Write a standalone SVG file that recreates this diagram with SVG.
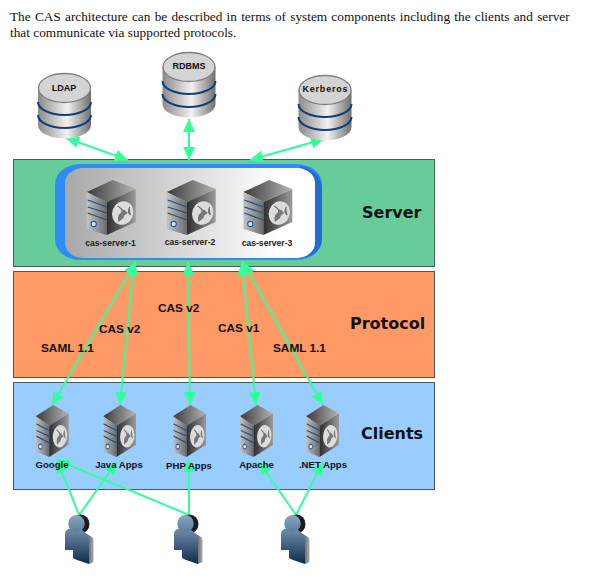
<svg xmlns="http://www.w3.org/2000/svg" xmlns:xlink="http://www.w3.org/1999/xlink" width="598" height="579" viewBox="0 0 598 579">
<style>
.band{stroke:#4a5a5a;stroke-width:1}
.intro{font-family:"Liberation Serif",serif;font-size:13.3px;fill:#111}
.title{font-family:"DejaVu Sans",sans-serif;font-weight:700;font-size:16px;fill:#111}
.proto{font-family:"Liberation Sans",sans-serif;font-weight:700;font-size:11.8px;fill:#111}
.small{font-family:"Liberation Sans",sans-serif;font-weight:700;font-size:9.6px;fill:#111;text-anchor:middle}
.tiny{font-family:"Liberation Sans",sans-serif;font-weight:700;font-size:8.6px;fill:#222;text-anchor:middle}
.db{font-family:"Liberation Sans",sans-serif;font-weight:700;font-size:9px;fill:#111;text-anchor:middle}
.conn{stroke:#33ff99;stroke-width:2;fill:none;marker-end:url(#arrow)}
.both{marker-start:url(#arrow)}
</style>
<defs>
<marker id="arrow" markerUnits="userSpaceOnUse" markerWidth="14" markerHeight="14" refX="13" refY="7" orient="auto-start-reverse"><path d="M0 1 L13 7 L0 13 Z" fill="#33ff99"/></marker>
<linearGradient id="cyl" x1="0" x2="1" y1="0" y2="0"><stop offset="0" stop-color="#8a8a8a"/><stop offset=".55" stop-color="#f2f2f2"/><stop offset="1" stop-color="#6f6f6f"/></linearGradient>
<linearGradient id="boxg" x1="0" x2="1" y1="0" y2="0"><stop offset="0" stop-color="#a8a8a8"/><stop offset=".85" stop-color="#fff"/><stop offset="1" stop-color="#fff"/></linearGradient>
<linearGradient id="front" x1="0" x2="1" y1="0" y2="0"><stop offset="0" stop-color="#c4c4c4"/><stop offset="1" stop-color="#6a6a6a"/></linearGradient>
<linearGradient id="side" x1="0" x2="1" y1="0" y2="0"><stop offset="0" stop-color="#2e2e2e"/><stop offset="1" stop-color="#9a9a9a"/></linearGradient>
<linearGradient id="topf" x1="0" x2="1" y1="0" y2="0"><stop offset="0" stop-color="#3a3a3a"/><stop offset="1" stop-color="#b5b5b5"/></linearGradient>
<linearGradient id="person" x1="0" x2="0" y1="0" y2="1"><stop offset="0" stop-color="#7392ae"/><stop offset="1" stop-color="#0d2a4a"/></linearGradient>
<linearGradient id="personhead" x1="0" x2="0" y1="0" y2="1"><stop offset="0" stop-color="#8aa5c0"/><stop offset="1" stop-color="#5d7d9b"/></linearGradient>
<linearGradient id="personside" x1="0" x2="1" y1="0" y2="0"><stop offset="0" stop-color="#444"/><stop offset="1" stop-color="#aaa"/></linearGradient>
<symbol id="server" viewBox="0 0 49 55" preserveAspectRatio="none" overflow="visible">
<path d="M0 12 L26 0 L49 9 L20 22 Z" fill="url(#topf)"/>
<path d="M0 12 L20 22 L20 55 L0 49 Z" fill="url(#front)"/>
<path d="M20 22 L49 9 L49 42 L20 55 Z" fill="url(#side)"/>
<path d="M1 20 L20 27 M1 27 L20 33 M1 33 L20 40" stroke="#1f4f8f" stroke-width="1.3" fill="none"/>
<circle cx="7" cy="44" r="2.6" fill="#dfe8f4" stroke="#2a5c9c" stroke-width="1.2"/>
<ellipse cx="36" cy="33" rx="10.5" ry="12" fill="#dcdcdc" transform="rotate(20 36 33)"/>
<path d="M31 26 Q37 30 35 33 Q31 35 32 41 L36 38 Q37 34 40 33 L37 30 M43 27 Q40 32 44 35" stroke="#777" stroke-width="1.2" fill="#777"/>
</symbol>
<symbol id="cylinder" viewBox="0 0 54 66" overflow="visible">
<path d="M0.5 15 V52 A26.5 13.5 0 0 0 53.5 52 V15 Z" fill="url(#cyl)"/>
<path d="M0.5 29 A26.5 13 0 0 0 53.5 29 M0.5 42 A26.5 13 0 0 0 53.5 42" stroke="#123e78" stroke-width="2" fill="none"/>
<ellipse cx="27" cy="15" rx="26" ry="14.5" fill="#d4d4d4" stroke="#808080" stroke-width="1.3"/>
</symbol>
<symbol id="user" viewBox="0 0 29 49" overflow="visible">
<path d="M20 18 L27 22 C28.5 23 28.5 25 28.5 27 V47 L24 49 Z" fill="url(#personside)"/>
<ellipse cx="15.5" cy="9" rx="9" ry="9.5" fill="#1c1c1c"/>
<path d="M3 14 L7 13 L16 14 L22 19 C24 21 24 23 24 26 V49 L12 45 L8 43 V35 L0 35 V19 C0 17 1 15 3 14 Z" fill="url(#person)"/>
<ellipse cx="11.5" cy="8.5" rx="8.2" ry="8.5" fill="url(#personhead)"/>
</symbol>
</defs>
<rect width="598" height="579" fill="#fff"/>
<g id="intro">
<text class="intro" x="10" y="21" word-spacing="0.9">The CAS architecture can be described in terms of system components including the clients and server</text>
<text class="intro" x="10" y="37">that communicate via supported protocols.</text>
</g>
<g id="band-server"><rect class="band" x="13.5" y="159.5" width="421" height="107" fill="#66cc99"/></g>
<g id="band-protocol"><rect class="band" x="13.5" y="271.5" width="421" height="106" fill="#ff9966"/></g>
<g id="band-clients"><rect class="band" x="13.5" y="382.5" width="421" height="107" fill="#99ccff"/></g>
<g id="server-cluster">
<rect x="55" y="164" width="267" height="96" rx="26" ry="20" fill="#2f8cf5"/>
<path d="M300 166 Q322 170 322 190 V236 Q322 256 300 258 Z" fill="#1f6fd0"/>
<rect x="65" y="168" width="250" height="90" rx="18" ry="15" fill="url(#boxg)"/>
</g>
<g id="connectors">
<line class="conn both" x1="128" y1="160" x2="66" y2="138"/>
<line class="conn both" x1="189" y1="160" x2="189" y2="119"/>
<line class="conn both" x1="250" y1="160" x2="324" y2="139"/>
<line class="conn both" x1="136" y1="262" x2="52" y2="405"/>
<line class="conn both" x1="134" y1="262" x2="120" y2="405"/>
<line class="conn both" x1="188" y1="262" x2="190" y2="405"/>
<line class="conn both" x1="242" y1="262" x2="256" y2="405"/>
<line class="conn both" x1="243" y1="262" x2="323" y2="405"/>
<line class="conn" x1="79" y1="515" x2="57" y2="460"/>
<line class="conn" x1="79" y1="515" x2="117" y2="462"/>
<line class="conn" x1="189" y1="515" x2="57" y2="460"/>
<line class="conn" x1="189" y1="515" x2="189" y2="459"/>
<line class="conn" x1="296" y1="515" x2="259" y2="462"/>
<line class="conn" x1="296" y1="515" x2="323" y2="462"/>
</g>
<g id="ldap"><use xlink:href="#cylinder" href="#cylinder" x="37.5" y="73" width="54" height="66"/><text class="db" x="64" y="91">LDAP</text></g>
<g id="rdbms"><use xlink:href="#cylinder" href="#cylinder" x="162" y="52" width="54" height="66"/><text class="db" x="189" y="69">RDBMS</text></g>
<g id="kerberos"><use xlink:href="#cylinder" href="#cylinder" x="298" y="75" width="54" height="66"/><text class="db" x="325" y="92" textLength="45">Kerberos</text></g>
<g id="cas-server-1"><use xlink:href="#server" href="#server" x="86.7" y="180" width="49" height="55"/><text class="tiny" x="110.5" y="246">cas-server-1</text></g>
<g id="cas-server-2"><use xlink:href="#server" href="#server" x="166.7" y="180" width="49" height="55"/><text class="tiny" x="190" y="245">cas-server-2</text></g>
<g id="cas-server-3"><use xlink:href="#server" href="#server" x="243.3" y="180" width="49" height="55"/><text class="tiny" x="267" y="246">cas-server-3</text></g>
<g id="google"><use xlink:href="#server" href="#server" x="35.7" y="405" width="33" height="52"/><text class="small" x="52" y="468">Google</text></g>
<g id="java-apps"><use xlink:href="#server" href="#server" x="103" y="405" width="33" height="52"/><text class="small" x="119" y="468">Java Apps</text></g>
<g id="php-apps"><use xlink:href="#server" href="#server" x="173" y="405" width="33" height="52"/><text class="small" x="189" y="469">PHP Apps</text></g>
<g id="apache"><use xlink:href="#server" href="#server" x="240" y="405" width="33" height="52"/><text class="small" x="256.5" y="468">Apache</text></g>
<g id="net-apps"><use xlink:href="#server" href="#server" x="306" y="405" width="33" height="52"/><text class="small" x="323" y="468">.NET Apps</text></g>
<g id="user-1"><use xlink:href="#user" href="#user" x="65" y="515" width="29" height="49"/></g>
<g id="user-2"><use xlink:href="#user" href="#user" x="174" y="515" width="29" height="49"/></g>
<g id="user-3"><use xlink:href="#user" href="#user" x="281" y="515" width="29" height="49"/></g>
<g id="labels">
<text class="title" x="362" y="218">Server</text>
<text class="title" x="350" y="329">Protocol</text>
<text class="title" x="361" y="439">Clients</text>
<text class="proto" x="41" y="352">SAML 1.1</text>
<text class="proto" x="99" y="333">CAS v2</text>
<text class="proto" x="158" y="312">CAS v2</text>
<text class="proto" x="218" y="332">CAS v1</text>
<text class="proto" x="273" y="352">SAML 1.1</text>
</g>
</svg>
